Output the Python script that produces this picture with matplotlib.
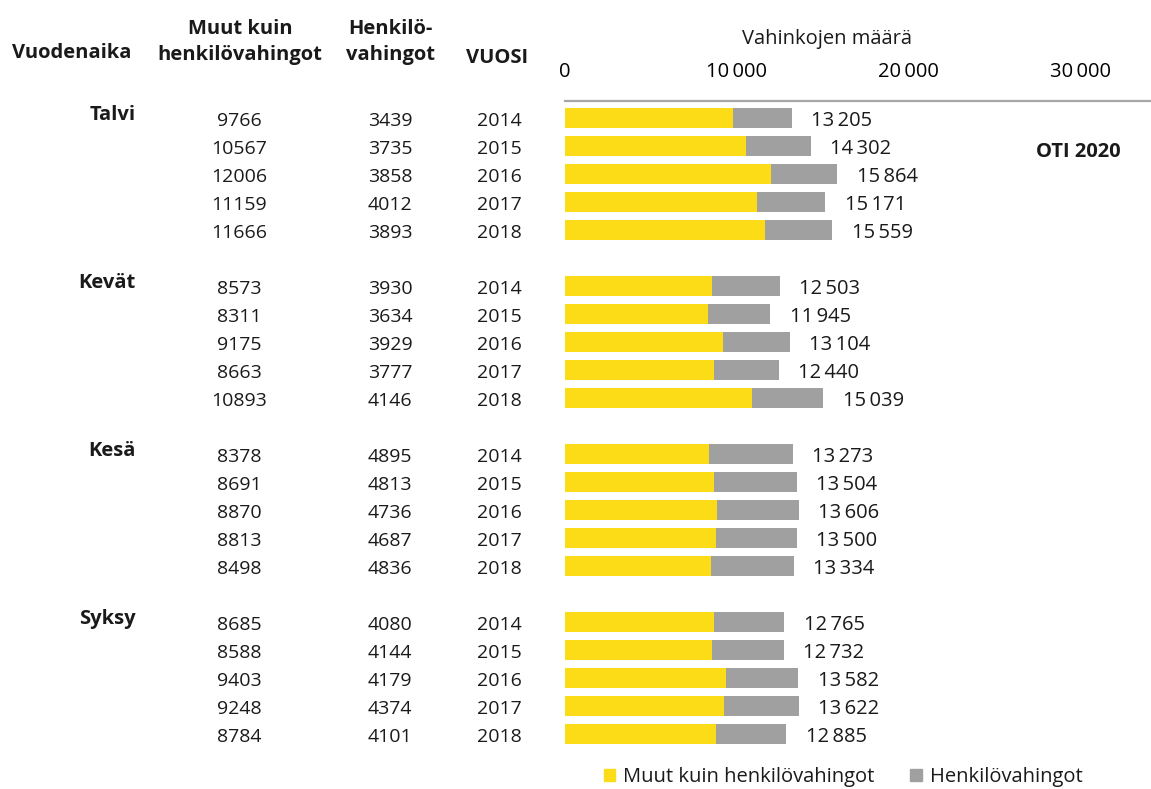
"""
Vahinkojen määrä vuodenajoittain (OTI 2020) - taulukko + pinotut palkit.
"""
import matplotlib

matplotlib.use("Agg")
import matplotlib.pyplot as plt
import matplotlib.transforms as mtransforms
from matplotlib.patches import Patch

seasons = ["Talvi", "Kevät", "Kesä", "Syksy"]
years = [2014, 2015, 2016, 2017, 2018]
muut = [
    [9766, 10567, 12006, 11159, 11666],
    [8573, 8311, 9175, 8663, 10893],
    [8378, 8691, 8870, 8813, 8498],
    [8685, 8588, 9403, 9248, 8784],
]
henkilo = [
    [3439, 3735, 3858, 4012, 3893],
    [3930, 3634, 3929, 3777, 4146],
    [4895, 4813, 4736, 4687, 4836],
    [4080, 4144, 4179, 4374, 4101],
]
xticks = [0, 10000, 20000, 30000]

YELLOW = "#FCDC17"
GREY = "#A0A0A1"
W, H = 1151, 789
FS = 14.5

plt.rcParams["font.family"] = ["Open Sans", "DejaVu Sans"]
plt.rcParams["text.color"] = "#1a1a1a"


def fmt(v):
    return f"{v:,}".replace(",", "\u2009")


fig = plt.figure(figsize=(W / 100, H / 100), dpi=100)
# axes in pixel coords: left 565, right 1151, top 101, bottom 751
ax = fig.add_axes([565 / W, 1 - 751 / H, (1151 - 565) / W, (751 - 101) / H])

rows = []
for g in range(len(seasons)):
    for k in range(len(years)):
        rows.append(g * 6 + k)

i = 0
for g in range(len(seasons)):
    for k in range(len(years)):
        y = rows[i]
        m = muut[g][k]
        h = henkilo[g][k]
        ax.barh(y, m, height=0.72, color=YELLOW, edgecolor="none")
        ax.barh(y, h, left=m, height=0.72, color=GREY, edgecolor="none")
        ax.annotate(fmt(m + h), (m + h, y + 0.1), xytext=(14, 0), textcoords="offset points",
                    ha="left", va="center", fontsize=FS)
        i += 1

ax.set_xlim(0, 34130)
ax.set_ylim(rows[-1] + 0.607, -0.607)
ax.xaxis.tick_top()
ax.set_xticks(xticks)
ax.set_xticklabels([fmt(t) for t in xticks], fontsize=FS)
ax.tick_params(axis="x", length=0, pad=14)
ax.set_yticks([])
for s in ("left", "right", "bottom"):
    ax.spines[s].set_visible(False)
ax.spines["top"].set_color("#A6A6A6")
ax.spines["top"].set_linewidth(1.6)
fig.text(827 / W, 1 - 39 / H, "Vahinkojen määrä", ha="center", va="center", fontsize=FS)

# left table
tr = mtransforms.blended_transform_factory(fig.transFigure, ax.transData)
i = 0
for g, season in enumerate(seasons):
    fig.text(136 / W, rows[i] - 0.12, season, transform=tr, ha="right", va="center",
             fontsize=FS, fontweight="bold")
    for k, yr in enumerate(years):
        y = rows[i] + 0.12
        fig.text(239 / W, y, str(muut[g][k]), transform=tr, ha="center", va="center", fontsize=14)
        fig.text(390 / W, y, str(henkilo[g][k]), transform=tr, ha="center", va="center", fontsize=14)
        fig.text(499 / W, y, str(yr), transform=tr, ha="center", va="center", fontsize=14)
        i += 1

hdr = dict(ha="center", va="center", fontsize=FS, fontweight="bold")
fig.text(72 / W, 1 - 53 / H, "Vuodenaika", **hdr)
fig.text(240 / W, 1 - 29 / H, "Muut kuin", **hdr)
fig.text(240 / W, 1 - 55 / H, "henkilövahingot", **hdr)
fig.text(390 / W, 1 - 29 / H, "Henkilö-", **hdr)
fig.text(390 / W, 1 - 55 / H, "vahingot", **hdr)
fig.text(497 / W, 1 - 58 / H, "VUOSI", **hdr)

fig.text(1078 / W, rows[1] + 0.2, "OTI 2020", transform=tr, ha="center", va="center",
         fontsize=FS, fontweight="bold")

handles = [Patch(color=YELLOW, label="Muut kuin henkilövahingot"),
           Patch(color=GREY, label="Henkilövahingot")]
fig.legend(handles=handles, loc="center", bbox_to_anchor=(843 / W, 1 - 777 / H), ncol=2,
           frameon=False, fontsize=FS, handlelength=0.55, handleheight=0.55,
           handletextpad=0.4, columnspacing=1.8)

fig.savefig("out.png", dpi=100)
